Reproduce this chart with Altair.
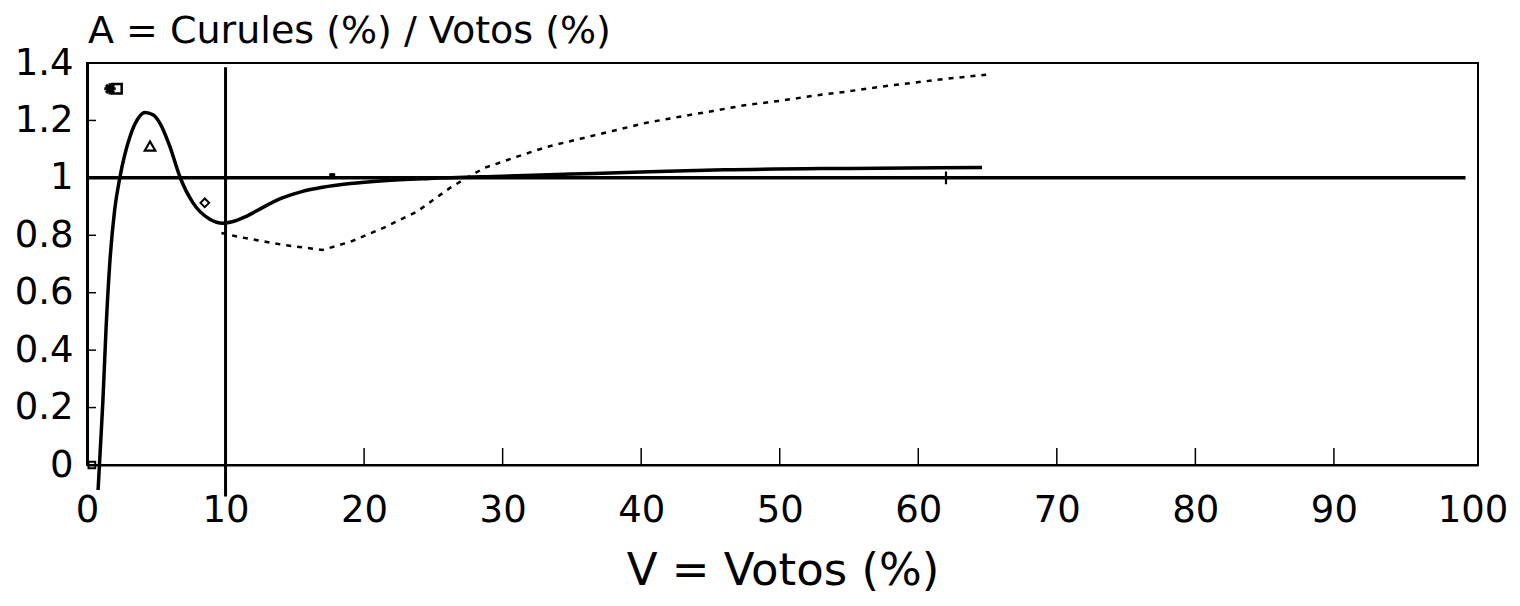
import altair as alt
import pandas as pd

# ---- data ----
x_ticks = [0, 10, 20, 30, 40, 50, 60, 70, 80, 90, 100]
y_ticks = [0, 0.2, 0.4, 0.6, 0.8, 1.0, 1.2, 1.4]

solid_v = [0.8, 1.0, 1.15, 1.37, 1.66, 2.0, 2.38, 3.1, 3.6, 4.18, 4.76, 5.27, 5.99,
           6.71, 7.65, 8.87, 9.81, 10.4, 11.5, 12.8, 14.1, 15.5, 17.0, 19.0, 21.4,
           24.7, 30.0, 35.0, 40.0, 46.0, 55.0, 64.6]
solid_a = [-0.087, 0.09, 0.226, 0.47, 0.714, 0.89, 1.003, 1.143, 1.20, 1.228, 1.22,
           1.19, 1.108, 1.003, 0.913, 0.856, 0.842, 0.846, 0.866, 0.9, 0.93, 0.952,
           0.967, 0.98, 0.99, 0.998, 1.006, 1.013, 1.02, 1.028, 1.033, 1.036]

dotted_v = [9.7, 11.0, 14.1, 17.0, 19.0, 21.4, 23.8, 26.2, 27.4, 28.7, 31.0, 33.2,
            35.6, 38.0, 40.4, 42.8, 45.2, 47.6, 50.0, 52.4, 54.8, 57.2, 59.6, 62.0, 64.9]
dotted_a = [0.808, 0.794, 0.767, 0.749, 0.777, 0.826, 0.882, 0.965, 1.0, 1.035, 1.073,
            1.108, 1.136, 1.164, 1.192, 1.213, 1.233, 1.254, 1.268, 1.286, 1.30, 1.317,
            1.331, 1.345, 1.359]

ref_line_v = [0, 99.5]
ref_line_a = [1.0, 1.0]

vline_v = [10]
vline_a0 = [-0.11]
vline_a1 = [1.385]

mk_v = [1.66, 2.16, 4.55, 8.5, 17.7, 62.0, 0.35]
mk_a = [1.31, 1.31, 1.111, 0.913, 1.006, 1.0, 0.0]
mk_kind = ["asterisk", "square", "triangle", "diamond", "smallsq", "plus", "square0"]

title_text = "A = Curules (%) / Votos (%)"
x_title = "V = Votos (%)"

FONT = "DejaVu Sans"
W, H = 1391, 402

xs = alt.Scale(domain=[0, 100.4], nice=False, zero=False)
ys = alt.Scale(domain=[0, 1.4], nice=False, zero=False)

solid_df = pd.DataFrame({"v": solid_v, "a": solid_a})
dotted_df = pd.DataFrame({"v": dotted_v, "a": dotted_a})
ref_df = pd.DataFrame({"v": ref_line_v, "a": ref_line_a})
vline_df = pd.DataFrame({"v": vline_v, "a0": vline_a0, "a1": vline_a1})
mk_df = pd.DataFrame({"v": mk_v, "a": mk_a, "k": mk_kind})
xt_df = pd.DataFrame({"v": x_ticks[1:-1]})
yt_df = pd.DataFrame({"a": y_ticks[1:-1]})
title_df = pd.DataFrame({"t": [title_text]})

x_axis = alt.Axis(values=x_ticks, ticks=False, grid=False, domain=True, domainWidth=2,
                  domainColor="black", labelFont=FONT, labelFontSize=37,
                  labelColor="black", labelPadding=27, labelFlush=False, format="d",
                  title=x_title, titleFont=FONT, titleFontSize=45,
                  titleFontWeight="normal", titleColor="black",
                  titleY=119, titleBaseline="alphabetic")
y_axis = alt.Axis(values=y_ticks, ticks=False, grid=False, domain=True, domainWidth=3,
                  domainColor="black", labelFont=FONT, labelFontSize=37,
                  labelColor="black", labelPadding=14, labelFlush=False,
                  format="~g", title=None)

ref = alt.Chart(ref_df).mark_line(color="black", strokeWidth=3.5).encode(
    x=alt.X("v:Q", scale=xs, axis=x_axis),
    y=alt.Y("a:Q", scale=ys, axis=y_axis),
)

solid = alt.Chart(solid_df).mark_line(color="black", strokeWidth=3.5,
                                      interpolate="monotone", clip=False).encode(
    x="v:Q", y="a:Q")

dotted = alt.Chart(dotted_df).mark_line(color="black", strokeWidth=2.5,
                                        strokeDash=[5, 6]).encode(x="v:Q", y="a:Q")

vline = alt.Chart(vline_df).mark_rule(color="black", strokeWidth=3, clip=False).encode(
    x="v:Q", y="a0:Q", y2="a1:Q")

xticks = alt.Chart(xt_df).mark_rule(color="black", strokeWidth=1.5).encode(
    x="v:Q", y=alt.value(H), y2=alt.value(H - 17))

yticks = alt.Chart(yt_df).mark_rule(color="black", strokeWidth=1.5).encode(
    y="a:Q", x=alt.value(0), x2=alt.value(9))


def marker(kind, **kw):
    return alt.Chart(mk_df).transform_filter(alt.datum.k == kind).mark_point(
        color="black", opacity=1, clip=False, **kw).encode(x="v:Q", y="a:Q")


m_ast = marker("asterisk", shape="M-1,0L1,0M0,-1L0,1M-0.7,-0.7L0.7,0.7M-0.7,0.7L0.7,-0.7",
               filled=False, size=130, strokeWidth=3)
m_sq = marker("square", shape="square", filled=False, size=90, strokeWidth=2.5)
m_tri = marker("triangle", shape="triangle-up", filled=False, size=110, strokeWidth=2.2)
m_dia = marker("diamond", shape="diamond", filled=False, size=75, strokeWidth=2)
m_small = marker("smallsq", shape="square", filled=True, size=35)
m_plus = marker("plus", shape="M-1,0L1,0M0,-1L0,1", filled=False, size=160, strokeWidth=2.2)
m_sq0 = marker("square0", shape="square", filled=False, size=45, strokeWidth=2)

title = alt.Chart(title_df).mark_text(font=FONT, fontSize=38, align="left",
                                      baseline="alphabetic", color="black",
                                      clip=False).encode(
    text="t:N", x=alt.value(1), y=alt.value(-20))

chart = alt.layer(ref, dotted, solid, vline, xticks, yticks,
                  m_ast, m_sq, m_tri, m_dia, m_small, m_plus, m_sq0, title).properties(
    width=W, height=H,
    padding={"left": 79, "top": 55, "right": 30, "bottom": 131},
    autosize=alt.AutoSizeParams(type="none"),
    background="white",
).configure_view(stroke="black", strokeWidth=2)

chart.save("out.html", embed_options={"renderer": "svg", "actions": False})
